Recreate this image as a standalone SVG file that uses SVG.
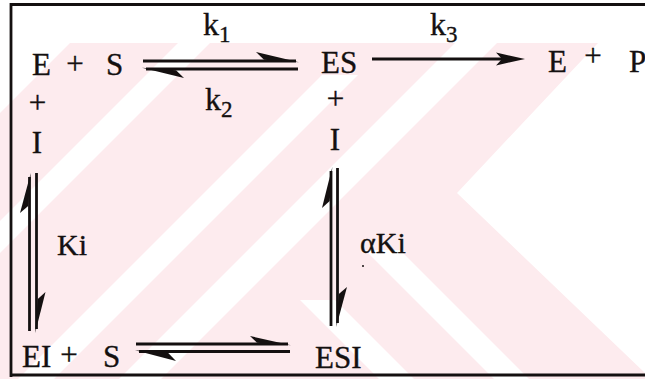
<svg xmlns="http://www.w3.org/2000/svg" width="645" height="379" viewBox="0 0 645 379">
  <defs>
    <style>
      .t { font-family: "Liberation Serif", "Times New Roman", serif; fill: #141010; stroke: #141010; stroke-width: 0.35; }
      .big { font-size: 31px; }
      .mid { font-size: 30px; }
      .k { font-size: 32px; }
      .sub { font-size: 23px; }
      .ln { stroke: #141010; stroke-width: 2.8; fill: none; }
      .hd { fill: #141010; }
      .pink { fill: #fdebee; }
      .band { fill: #ffffff; }
    </style>
  </defs>

  <rect width="645" height="379" fill="#ffffff"/>

  <!-- faint striped emblem behind the scheme -->
  <g id="emblem">
    <polygon class="pink" points="0,43 598,43 457,193 645,373 645,379 0,379"/>
    <!-- rising bands -->
    <polygon class="band" points="-400,43 70,43 -330,443 -800,443"/>
    <polygon class="band" points="178,43 210,43 -190,443 -222,443"/>
    <polygon class="band" points="322,75 358,75 -42,475 -78,475"/>
    <polygon class="band" points="455,43 497,43 97,443 55,443"/>
    <!-- falling bands -->
    <polygon class="band" points="365,250 400,250 550,400 515,400"/>
    <polygon class="band" points="300,300 335,300 435,400 400,400"/>
  </g>

  <!-- frame -->
  <g id="frame">
    <line class="ln" x1="10" y1="4.5" x2="645" y2="4.5" stroke-width="2.5"/>
    <line class="ln" x1="11" y1="3" x2="11" y2="377" stroke-width="2.5"/>
    <line class="ln" x1="10" y1="375" x2="645" y2="375" stroke-width="4.5"/>
  </g>

  <!-- connectors -->
  <g id="connectors">
    <!-- E + S <=> ES -->
    <line class="ln" x1="143" y1="61" x2="296" y2="61"/>
    <polygon class="hd" points="299,62.3 256,52 264,59.7"/>
    <line class="ln" x1="146" y1="69" x2="298" y2="69"/>
    <polygon class="hd" points="142,67.7 184,78 176,70.3"/>
    <!-- ES -> E + P -->
    <line class="ln" x1="372" y1="59" x2="505" y2="59"/>
    <polygon class="hd" points="525,59 496,52.5 502,59 496,65.5"/>
    <!-- E + I <=> EI -->
    <line class="ln" x1="29.5" y1="177" x2="29.5" y2="331"/>
    <polygon class="hd" points="30.8,173 20,213 28.2,206"/>
    <line class="ln" x1="36.5" y1="173" x2="36.5" y2="329"/>
    <polygon class="hd" points="35.2,333 45.5,292 37.8,299"/>
    <!-- ES + I <=> ESI -->
    <line class="ln" x1="331" y1="171" x2="331" y2="326"/>
    <polygon class="hd" points="332.3,167 322,208 329.7,201"/>
    <line class="ln" x1="337.5" y1="168" x2="337.5" y2="323"/>
    <polygon class="hd" points="336.2,327 347,287 338.8,294"/>
    <!-- EI + S <=> ESI -->
    <line class="ln" x1="136" y1="344" x2="288" y2="344"/>
    <polygon class="hd" points="291,345.3 250,336 257,342.7"/>
    <line class="ln" x1="139" y1="351.5" x2="290" y2="351.5"/>
    <polygon class="hd" points="135,350.2 176,361 168,352.8"/>
  </g>

  <!-- species -->
  <g id="node-e-s">
    <text class="t big" x="32" y="75">E</text>
    <text class="t big" x="75" y="74" text-anchor="middle">+</text>
    <text class="t big" x="106" y="75">S</text>
  </g>
  <g id="node-es">
    <text class="t big" x="321" y="73">ES</text>
  </g>
  <g id="node-e-p">
    <text class="t big" x="548" y="72">E</text>
    <text class="t big" x="593" y="66" text-anchor="middle">+</text>
    <text class="t big" x="629" y="72">P</text>
  </g>
  <g id="node-plus-i-left">
    <text class="t big" x="37.5" y="113" text-anchor="middle">+</text>
    <text class="t big" x="37" y="153" text-anchor="middle">I</text>
  </g>
  <g id="node-plus-i-right">
    <text class="t big" x="335.5" y="109" text-anchor="middle">+</text>
    <text class="t big" x="335" y="150" text-anchor="middle">I</text>
  </g>
  <g id="node-ei-s">
    <text class="t big" x="22" y="367">EI</text>
    <text class="t big" x="69" y="365" text-anchor="middle">+</text>
    <text class="t big" x="103" y="367">S</text>
  </g>
  <g id="node-esi">
    <text class="t big" x="315" y="368">ESI</text>
  </g>

  <!-- rate labels -->
  <g id="labels">
    <text class="t k" x="203" y="35">k<tspan class="sub" dy="7">1</tspan></text>
    <text class="t k" x="205" y="110">k<tspan class="sub" dy="7">2</tspan></text>
    <text class="t k" x="430" y="35">k<tspan class="sub" dy="7">3</tspan></text>
    <text class="t mid" x="57" y="255">Ki</text>
    <text class="t mid" x="360" y="253">αKi</text>
    <circle cx="363" cy="266" r="1" fill="#141010"/>
  </g>
</svg>
